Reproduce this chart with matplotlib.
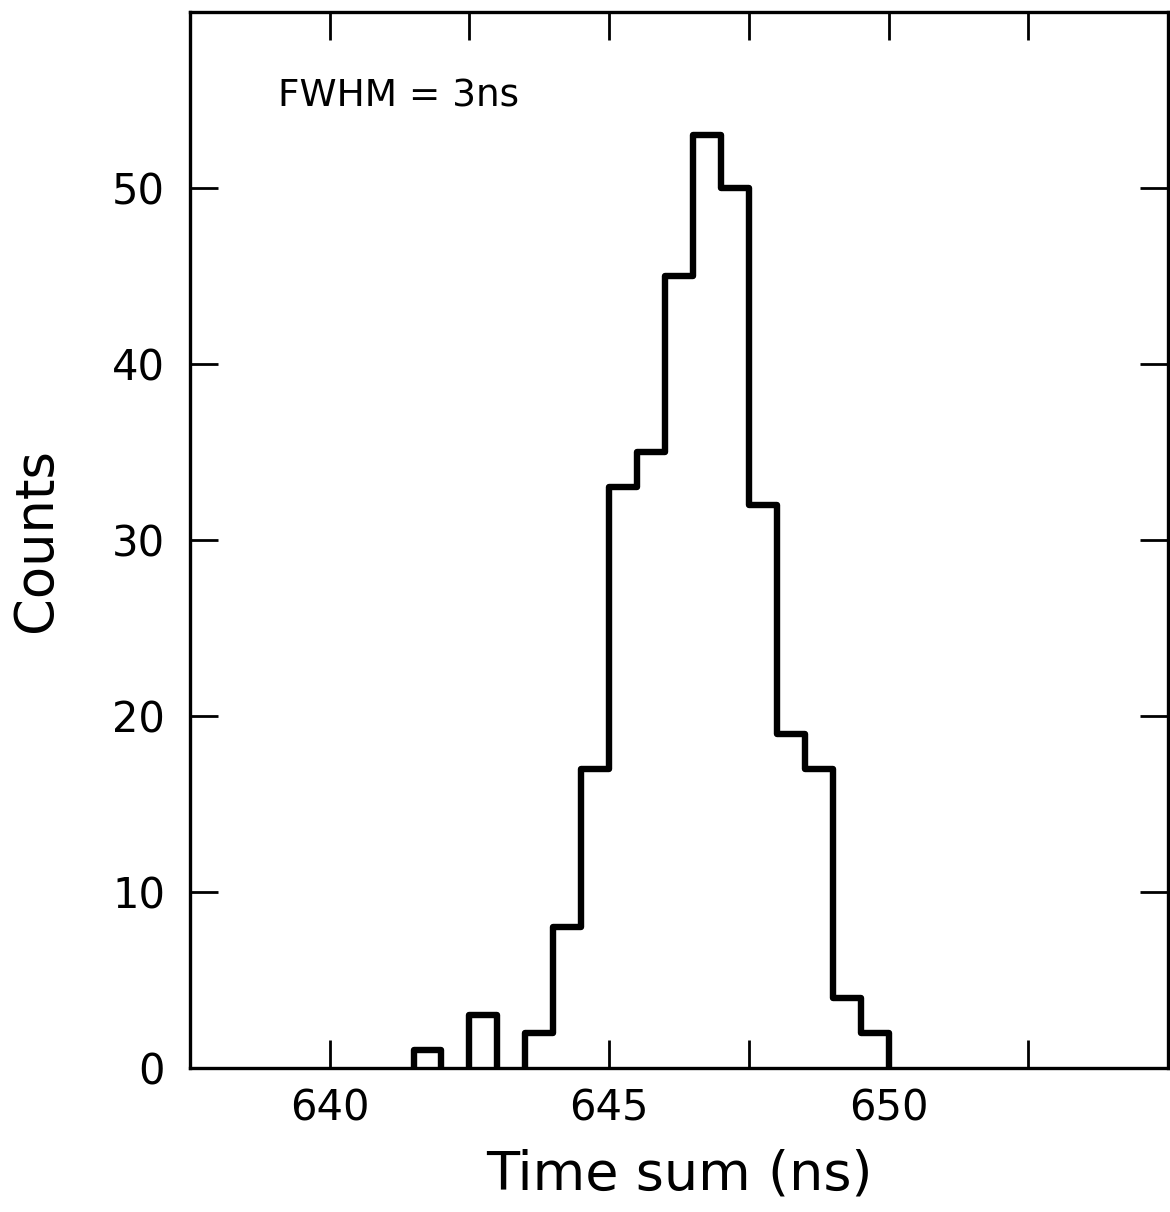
import numpy as np
import matplotlib
matplotlib.use("Agg")
import matplotlib.pyplot as plt

# Histograma de suma de tiempos (bins de 0.5 ns)
bin_lo = [641.5, 642.0, 642.5, 643.0, 643.5, 644.0, 644.5, 645.0, 645.5,
          646.0, 646.5, 647.0, 647.5, 648.0, 648.5, 649.0, 649.5]
counts = [1, 0, 3, 0, 2, 8, 17, 33, 35, 45, 53, 50, 32, 19, 17, 4, 2]
bin_width = 0.5

xticks = [637.5, 640, 642.5, 645, 647.5, 650, 652.5]
xtick_labels = ["", "640", "", "645", "", "650", ""]
yticks = [0, 10, 20, 30, 40, 50]
annotation = "FWHM = 3ns"

plt.rcParams['font.family'] = ['DejaVu Sans']

fig = plt.figure(figsize=(11.7, 12.12), dpi=100)
ax = fig.add_axes([190 / 1170, 1 - 1068 / 1212, 978 / 1170, 1056 / 1212])

# agrupar bins contiguos con cuentas > 0
groups = []
cur = []
for lo, c in zip(bin_lo, counts):
    if c > 0:
        cur.append((lo, c))
    elif cur:
        groups.append(cur)
        cur = []
if cur:
    groups.append(cur)

for g in groups:
    edges = [p[0] for p in g] + [g[-1][0] + bin_width]
    vals = [p[1] for p in g]
    ax.stairs(vals, edges, baseline=0, color="black", lw=4.6,
              joinstyle="round", capstyle="butt")

ax.set_xlim(637.5, 655)
ax.set_ylim(0, 60)

ax.set_xticks(xticks)
ax.set_xticklabels(xtick_labels)
ax.set_yticks(yticks)
ax.tick_params(axis="both", direction="in", length=20, width=2,
               top=True, right=True, labelsize=30)
ax.tick_params(axis="x", pad=14)
ax.tick_params(axis="y", pad=18)
for sp in ax.spines.values():
    sp.set_linewidth(2.4)

ax.set_xlabel("Time sum (ns)", fontsize=39, labelpad=14)
ax.set_ylabel("Counts", fontsize=38, labelpad=36)

ax.text(0.09, 0.92, annotation, transform=ax.transAxes, fontsize=27,
        va="center", ha="left")

fig.savefig("out.png", dpi=100)
